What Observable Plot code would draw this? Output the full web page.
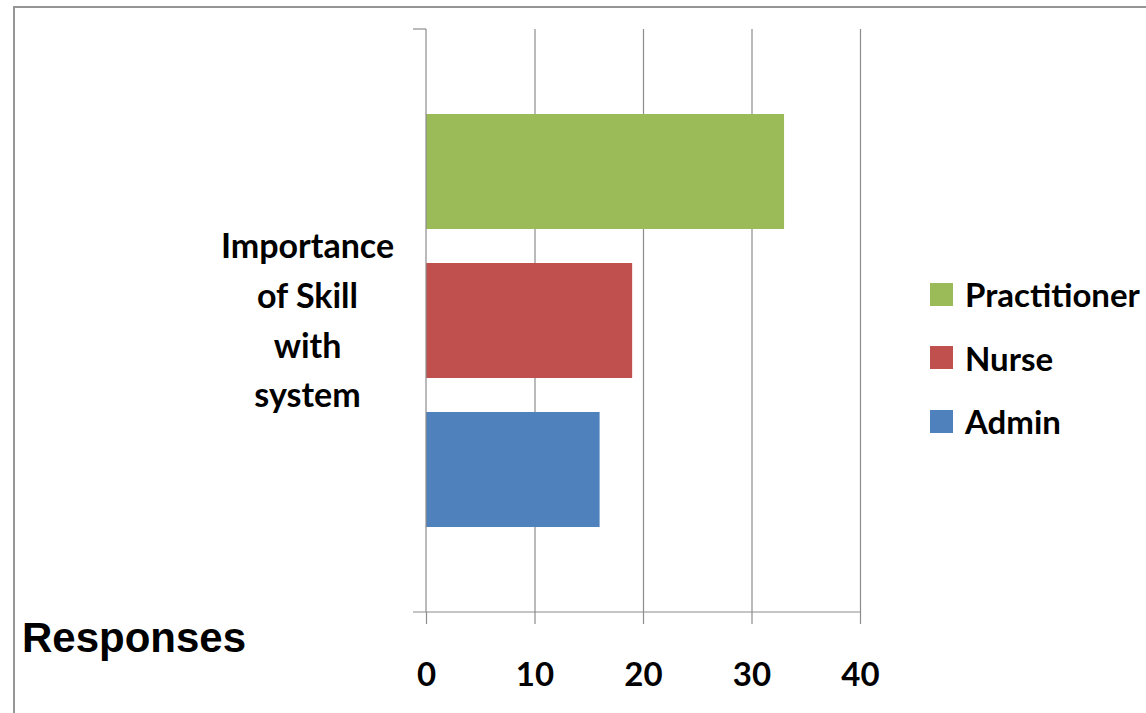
<!DOCTYPE html>
<html>
<head>
<meta charset="utf-8">
<script src="https://cdn.jsdelivr.net/npm/d3@7"></script>
<script src="https://cdn.jsdelivr.net/npm/@observablehq/plot@0.6"></script>
<style>
  body { margin: 0; background: #fff; }
  #wrap { position: relative; width: 1146px; height: 713px; overflow: hidden; background: #fff; }
  #frame { position: absolute; left: 13px; top: 6px; width: 1300px; height: 900px;
           border-left: 2px solid #959595; border-top: 2px solid #959595; pointer-events: none; }
  #chart { position: absolute; left: 0; top: 0; }
  .legend-row { position: absolute; left: 930px; height: 64px; display: flex; align-items: center;
                font-family: Lato, "Open Sans", sans-serif; font-weight: 700; font-size: 33px; color: #000; white-space: nowrap; }
  .legend-row .sw { width: 23px; height: 23px; margin-right: 12px; flex: none; }
  #ytitle { position: absolute; left: 22px; top: 617px; line-height: 42px;
            font-family: "Liberation Sans", Arial, sans-serif; font-weight: 700; font-size: 42px; color: #000; }
</style>
</head>
<body>
<div id="wrap">
  <div id="chart"></div>
  <div id="frame"></div>
  <div id="ytitle"></div>
</div>
<script>
// ---- data ----
const categoryLines = ["Importance", "of Skill", "with", "system"];
const series = ["Practitioner", "Nurse", "Admin"];
const values = [33, 19, 16];
const colors = ["#9BBB59", "#C0504D", "#4F81BD"];
const xTicks = [0, 10, 20, 30, 40];
const axisTitle = "Responses";

const data = series.map((s, i) => ({series: s, value: values[i]}));
const axisColor = "#8c8c8c";

// category-axis line and its end ticks, plus the value-axis baseline
const categoryAxis = (index, scales, vals, dims) => {
  const g = d3.create("svg:g").attr("stroke", axisColor).attr("stroke-width", 1.2).attr("fill", "none");
  const x0 = scales.x(xTicks[0]);
  const x1 = scales.x(xTicks[xTicks.length - 1]);
  const top = dims.marginTop;
  const bottom = dims.height - dims.marginBottom;
  const t = 13;
  g.append("line").attr("x1", x0).attr("x2", x0).attr("y1", top).attr("y2", bottom);
  g.append("line").attr("x1", x0 - t).attr("x2", x0).attr("y1", top).attr("y2", top);
  g.append("line").attr("x1", x0 - t).attr("x2", x1).attr("y1", bottom).attr("y2", bottom);
  return g.node();
};

const chart = Plot.plot({
  width: 1146,
  height: 713,
  marginLeft: 426,
  marginRight: 286,
  marginTop: 29,
  marginBottom: 101,
  style: {fontFamily: "Lato, 'Open Sans', sans-serif", fontWeight: 700, background: "transparent", color: "#000"},
  x: {domain: [xTicks[0], xTicks[xTicks.length - 1]], axis: null},
  y: {domain: series, paddingInner: 0.228, paddingOuter: 0.57, axis: null},
  color: {domain: series, range: colors},
  marks: [
    Plot.gridX(xTicks.slice(1), {stroke: axisColor, strokeOpacity: 1, strokeWidth: 1.2}),
    Plot.barX(data, {x: "value", y: "series", fill: "series"}),
    Plot.axisX(xTicks, {anchor: "bottom", label: null, tickSize: 12, tickPadding: 38, fontSize: 33,
      stroke: axisColor, strokeWidth: 1.2, fill: "#000", tickFormat: d => String(d)}),
    categoryAxis,
    Plot.text([categoryLines.join("\n")], {frameAnchor: "left", dx: -119, dy: -4, textAnchor: "middle",
      lineAnchor: "middle", lineHeight: 1.46, fontSize: 34, fill: "#000"})
  ]
});
document.getElementById("chart").appendChild(chart);

// legend
const wrap = document.getElementById("wrap");
series.forEach((s, i) => {
  const row = document.createElement("div");
  row.className = "legend-row";
  row.style.top = (262 + i * 63.5) + "px";
  const sw = document.createElement("div");
  sw.className = "sw";
  sw.style.background = colors[i];
  const lab = document.createElement("span");
  lab.textContent = s;
  row.appendChild(sw);
  row.appendChild(lab);
  wrap.appendChild(row);
});
document.getElementById("ytitle").textContent = axisTitle;
</script>
</body>
</html>
